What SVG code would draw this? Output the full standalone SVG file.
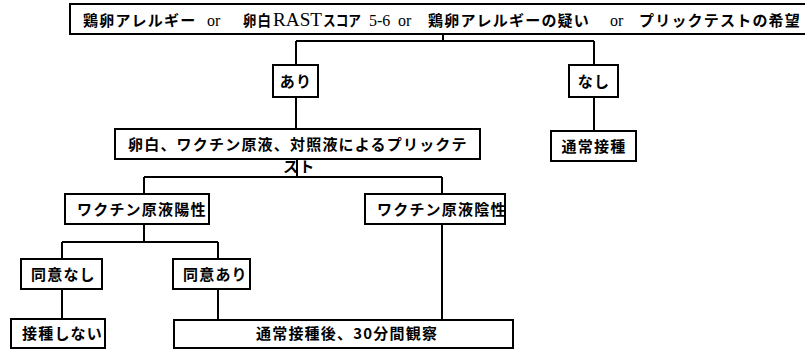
<svg xmlns="http://www.w3.org/2000/svg" width="805" height="351" viewBox="0 0 805 351">
<style>
.box{fill:#fff;stroke:#000;stroke-width:2}
.t{font-family:"Noto Sans CJK JP","Noto Sans CJK SC",sans-serif;font-weight:bold;font-size:15px;letter-spacing:1.2px;fill:#000}
.s{font-family:"Liberation Serif",serif;font-weight:normal;font-size:16px;letter-spacing:0;fill:#000}
.ln{stroke:#000;stroke-width:2;fill:none}
</style>
<rect width="805" height="351" fill="#fff"/>
<g id="connectors">
<path class="ln" d="M443 34V41M296 41H594M296 41V65M594 41V65"/>
<path class="ln" d="M296 97V129M594 97V131"/>
<path class="ln" d="M297 159V177M144 177H442M144 177V194M442 177V194"/>
<path class="ln" d="M144 224V242M62 242H218M62 242V259M218 242V259"/>
<path class="ln" d="M62 289V319M218 289V320M442 224V320"/>
</g>
<g id="top">
<rect class="box" x="70" y="4" width="740" height="30"/>
<text class="t" y="26"><tspan x="83">鶏卵アレルギー</tspan><tspan class="s" x="207">or</tspan></text>
<text class="t" x="243" y="26" textLength="29" lengthAdjust="spacingAndGlyphs">卵白</text>
<text class="s" x="273" y="26" style="font-size:18px" textLength="49" lengthAdjust="spacingAndGlyphs">RAST</text>
<text class="t" x="323" y="26" style="letter-spacing:0" textLength="38" lengthAdjust="spacingAndGlyphs">スコア</text>
<text class="s" x="369" y="26">5-6</text>
<text class="t" y="26"><tspan class="s" x="398">or</tspan><tspan x="428">鶏卵アレルギーの疑い</tspan><tspan class="s" x="610">or</tspan><tspan x="639">プリックテストの希望</tspan></text>
</g>
<g id="ari">
<rect class="box" x="273" y="65" width="45" height="32"/>
<text class="t" x="296" y="87" text-anchor="middle">あり</text>
</g>
<g id="nashi">
<rect class="box" x="569" y="65" width="49" height="32"/>
<text class="t" x="594" y="87" text-anchor="middle">なし</text>
</g>
<g id="tsujo">
<rect class="box" x="551" y="131" width="85" height="30"/>
<text class="t" x="594" y="152" text-anchor="middle">通常接種</text>
</g>
<g id="prick">
<text class="t" x="283" y="172">スト</text>
<rect class="box" x="115" y="129" width="365" height="30"/>
<text class="t" x="128" y="150">卵白、ワクチン原液、対照液によるプリックテ</text>
</g>
<g id="yosei">
<rect class="box" x="65" y="194" width="144" height="30"/>
<text class="t" x="77" y="215">ワクチン原液陽性</text>
</g>
<g id="insei">
<rect class="box" x="365" y="194" width="140" height="30"/>
<text class="t" x="377" y="215">ワクチン原液陰性</text>
</g>
<g id="doi-nashi">
<rect class="box" x="21" y="259" width="81" height="30"/>
<text class="t" x="31" y="280">同意なし</text>
</g>
<g id="doi-ari">
<rect class="box" x="173" y="259" width="77" height="30"/>
<text class="t" x="183" y="280">同意あり</text>
</g>
<g id="sesshu-shinai">
<rect class="box" x="11" y="319" width="94" height="29"/>
<text class="t" x="22" y="339">接種しない</text>
</g>
<g id="kansatsu">
<rect class="box" x="174" y="320" width="339" height="28"/>
<text class="t" x="256" y="339">通常接種後、30分間観察</text>
</g>
</svg>
